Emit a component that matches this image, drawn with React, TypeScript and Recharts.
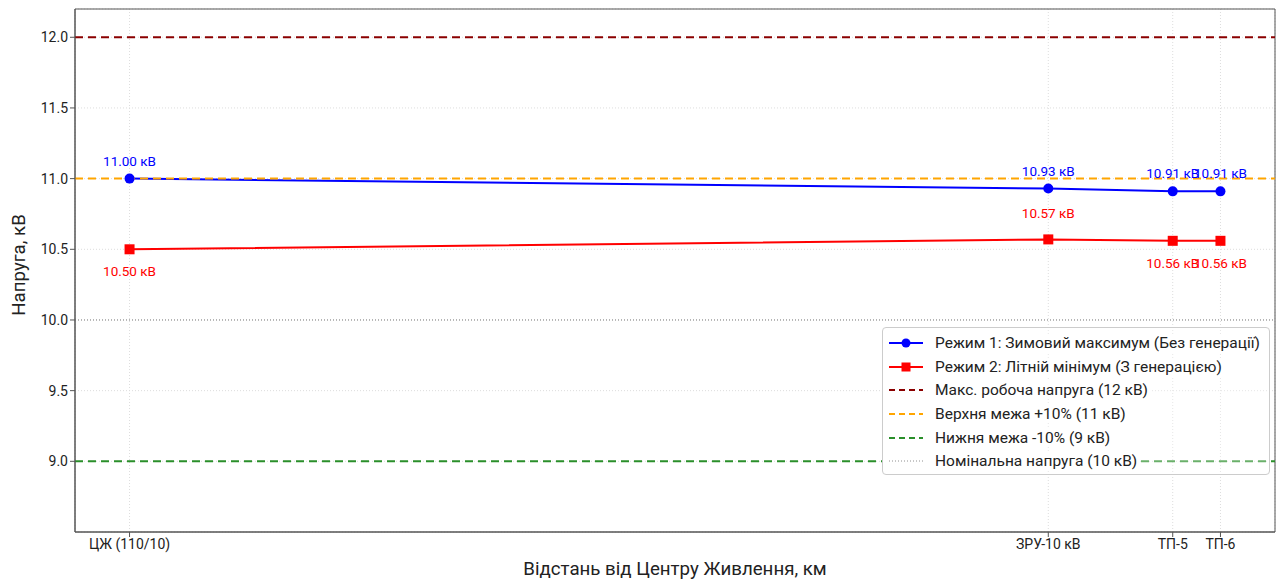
import React from "react";
import {
  LineChart,
  Line,
  XAxis,
  YAxis,
  CartesianGrid,
  ReferenceLine,
  ReferenceArea,
  LabelList,
  Label,
} from "recharts";

// Вузли мережі та відстані від ЦЖ (км)
const nodeNames = ["ЦЖ (110/10)", "ЗРУ-10 кВ", "ТП-5", "ТП-6"];
const distanceKm = [0, 5.39, 6.12, 6.4];

// Напруга по режимах, кВ
const winterMax = [11.0, 10.93, 10.91, 10.91];
const summerMin = [10.5, 10.57, 10.56, 10.56];

const yTicks = [9.0, 9.5, 10.0, 10.5, 11.0, 11.5, 12.0];
const yDomain = [8.5, 12.2];
const xDomain = [-0.32, 6.72];

const maxWorking = 12;
const upperLimit = 11;
const lowerLimit = 9;
const nominal = 10;

const BLUE = "#0000ff";
const RED = "#ff0000";
const FONT = "Roboto, 'Noto Sans', sans-serif";

const data = distanceKm.map((x, i) => ({
  x,
  name: nodeNames[i],
  winter: winterMax[i],
  summer: summerMin[i],
}));

const SquareDot = (props: any) => {
  const { cx, cy } = props;
  if (cx == null || cy == null) return null;
  return <rect x={cx - 5} y={cy - 5} width={10} height={10} fill={RED} />;
};

const blueLabel = (p: any) => (
  <text
    x={p.x}
    y={p.y - 18}
    fill={BLUE}
    fontSize={13.5}
    fontFamily={FONT}
    textAnchor="middle"
    dominantBaseline="central"
  >
    {Number(p.value).toFixed(2)} кВ
  </text>
);

// у ЗРУ підпис червоної кривої стоїть над точкою, решта — під точкою
const redLabel = (p: any) => (
  <text
    x={p.x}
    y={p.index === 1 ? p.y - 26 : p.y + 22}
    fill={RED}
    fontSize={13.5}
    fontFamily={FONT}
    textAnchor="middle"
    dominantBaseline="central"
  >
    {Number(p.value).toFixed(2)} кВ
  </text>
);

const legendItems = [
  { label: "Режим 1: Зимовий максимум (Без генерації)", color: BLUE, dash: undefined, marker: "circle", w: 2 },
  { label: "Режим 2: Літній мінімум (З генерацією)", color: RED, dash: undefined, marker: "square", w: 2 },
  { label: "Макс. робоча напруга (12 кВ)", color: "#8b0000", dash: "6 4", marker: null, w: 2 },
  { label: "Верхня межа +10% (11 кВ)", color: "#ffa500", dash: "6 4", marker: null, w: 2 },
  { label: "Нижня межа -10% (9 кВ)", color: "#2a8f2a", dash: "6 4", marker: null, w: 2 },
  { label: "Номінальна напруга (10 кВ)", color: "#909090", dash: "1 2", marker: null, w: 1 },
];

function LegendBox() {
  return (
    <div
      style={{
        position: "absolute",
        left: 882,
        top: 327,
        width: 388,
        height: 148,
        border: "1px solid #cccccc",
        borderRadius: 4,
        background: "rgba(255,255,255,0.3)",
        fontFamily: FONT,
        fontSize: 15.5,
        color: "#222",
        paddingTop: 3,
        boxSizing: "border-box",
      }}
    >
      {legendItems.map((it) => (
        <div key={it.label} style={{ display: "flex", alignItems: "center", height: 23.7 }}>
          <div style={{ display: "flex", alignItems: "center", background: "#fff", paddingLeft: 6, paddingRight: 3 }}>
            <svg width={40} height={14} style={{ marginRight: 6 }}>
              <line x1={0} y1={7} x2={34} y2={7} stroke={it.color} strokeWidth={it.w} strokeDasharray={it.dash} />
              {it.marker === "circle" && <circle cx={17} cy={7} r={4.5} fill={it.color} />}
              {it.marker === "square" && <rect x={12.5} y={2.5} width={9} height={9} fill={it.color} />}
            </svg>
            <span style={{ whiteSpace: "nowrap" }}>{it.label}</span>
          </div>
        </div>
      ))}
    </div>
  );
}

export default function App() {
  return (
    <div style={{ position: "absolute", left: 0, top: 0, width: 1279, height: 582, background: "#fff" }}>
      <LineChart
        width={1279}
        height={582}
        data={data}
        margin={{ top: 9, right: 4, bottom: 0, left: 0 }}
      >
        <CartesianGrid stroke="#dddddd" strokeDasharray="1 2" />
        <XAxis
          dataKey="x"
          type="number"
          domain={xDomain}
          ticks={distanceKm}
          tickFormatter={(v: number) => nodeNames[distanceKm.indexOf(v)] ?? ""}
          interval={0}
          height={50}
          allowDataOverflow
          stroke="#555"
          tickSize={5}
          tick={{ fill: "#222", fontSize: 14, fontFamily: FONT }}
        >
          <Label
            content={() => (
              <text
                x={675}
                y={569}
                textAnchor="middle"
                dominantBaseline="central"
                fontSize={18.7}
                fontFamily={FONT}
                fill="#222"
              >
                Відстань від Центру Живлення, км
              </text>
            )}
          />
        </XAxis>
        <YAxis
          type="number"
          domain={yDomain}
          ticks={yTicks}
          allowDataOverflow
          width={75}
          stroke="#555"
          tickSize={5}
          tickFormatter={(v: number) => v.toFixed(1)}
          tick={{ fill: "#222", fontSize: 14, fontFamily: FONT }}
        >
          <Label
            content={() => (
              <text
                x={19}
                y={265}
                transform="rotate(-90 19 265)"
                textAnchor="middle"
                dominantBaseline="central"
                fontSize={18.7}
                fontFamily={FONT}
                fill="#222"
              >
                Напруга, кВ
              </text>
            )}
          />
        </YAxis>
        <ReferenceArea
          x1={xDomain[0]}
          x2={xDomain[1]}
          y1={yDomain[0]}
          y2={yDomain[1]}
          fill="none"
          stroke="#555"
          strokeWidth={1}
          ifOverflow="extendDomain"
        />
        <Line
          dataKey="winter"
          stroke={BLUE}
          strokeWidth={2}
          dot={{ r: 5, fill: BLUE, stroke: BLUE, strokeWidth: 0 }}
          activeDot={false}
          isAnimationActive={false}
        >
          <LabelList dataKey="winter" content={blueLabel} />
        </Line>
        <Line
          dataKey="summer"
          stroke={RED}
          strokeWidth={2}
          dot={<SquareDot />}
          activeDot={false}
          isAnimationActive={false}
        >
          <LabelList dataKey="summer" content={redLabel} />
        </Line>
        <ReferenceLine y={maxWorking} stroke="#8b0000" strokeWidth={2} strokeDasharray="8 5" />
        <ReferenceLine y={upperLimit} stroke="#ffa500" strokeWidth={2} strokeDasharray="8 5" />
        <ReferenceLine y={lowerLimit} stroke="#2a8f2a" strokeWidth={2} strokeDasharray="8 5" />
        <ReferenceLine y={nominal} stroke="#808080" strokeWidth={1} strokeDasharray="1 2" />
      </LineChart>
      <LegendBox />
    </div>
  );
}
